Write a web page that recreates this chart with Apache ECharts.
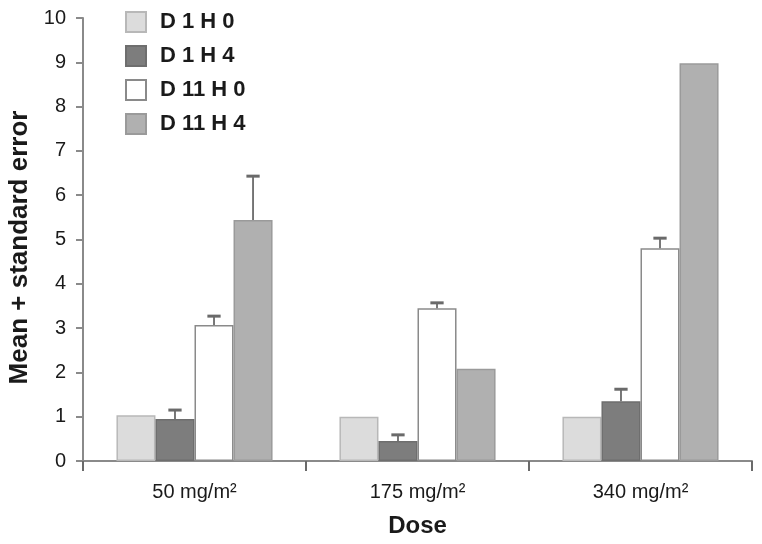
<!DOCTYPE html>
<html>
<head>
<meta charset="utf-8">
<script src="https://cdn.jsdelivr.net/npm/echarts@6/dist/echarts.min.js"></script>
<style>html,body{margin:0;padding:0;background:#fff;}#c{width:762px;height:544px;}</style>
</head>
<body>
<div id="c"></div>
<script>
var categories = ['50 mg/m\u00B2', '175 mg/m\u00B2', '340 mg/m\u00B2'];
var seriesNames = ['D 1 H 0', 'D 1 H 4', 'D 11 H 0', 'D 11 H 4'];
var d1h0 = [1.03, 1.0, 1.0];
var d1h4 = [0.95, 0.45, 1.35];
var d11h0 = [3.07, 3.45, 4.8];
var d11h4 = [5.44, 2.08, 8.98];
// upper end of error bars (null = none drawn)
var d1h0Err = [null, null, null];
var d1h4Err = [1.15, 0.59, 1.62];
var d11h0Err = [3.27, 3.57, 5.03];
var d11h4Err = [6.43, null, null];
var yTicks = [0, 1, 2, 3, 4, 5, 6, 7, 8, 9, 10];

var values = [d1h0, d1h4, d11h0, d11h4];
var errs = [d1h0Err, d1h4Err, d11h0Err, d11h4Err];
var fills = ['#dcdcdc', '#7d7d7d', '#ffffff', '#b0b0b0'];
var borders = ['#b8b8b8', '#6e6e6e', '#8a8a8a', '#9a9a9a'];
var GAP = 0.3;

var series = [];
values.forEach(function (v, i) {
  series.push({
    name: seriesNames[i], type: 'bar', data: v,
    barGap: '0%', barCategoryGap: (GAP * 100) + '%',
    itemStyle: { color: fills[i], borderColor: borders[i], borderWidth: 1.5 },
    z: 2
  });
});
values.forEach(function (v, i) {
  var data = [];
  v.forEach(function (val, j) { if (errs[i][j] != null) data.push([j, val, errs[i][j]]); });
  series.push({
    type: 'custom', data: data, z: 3, silent: true,
    renderItem: function (params, api) {
      var cat = api.value(0);
      var base = api.coord([cat, api.value(1)]);
      var top = api.coord([cat, api.value(2)]);
      var cw = api.size([1, 0])[0];
      var bw = cw * (1 - GAP) / 4;
      var x = base[0] - cw * (1 - GAP) / 2 + (i + 0.5) * bw;
      var cap = bw * 0.17;
      return { type: 'group', children: [
        { type: 'line', shape: { x1: x, y1: base[1], x2: x, y2: top[1] }, style: { stroke: '#6a6a6a', lineWidth: 1.8 } },
        { type: 'line', shape: { x1: x - cap, y1: top[1], x2: x + cap, y2: top[1] }, style: { stroke: '#6a6a6a', lineWidth: 3 } }
      ]};
    }
  });
});

var chart = echarts.init(document.getElementById('c'));
chart.setOption({
  animation: false,
  backgroundColor: '#fff',
  grid: { left: 83, right: 10, top: 18, bottom: 83, containLabel: false, outerBoundsMode: 'none' },
  legend: {
    data: seriesNames, orient: 'vertical', left: 125, top: 11,
    itemWidth: 20, itemHeight: 20, itemGap: 12, icon: 'rect',
    textStyle: { fontFamily: 'Liberation Sans', fontWeight: 'bold', fontSize: 22, color: '#1a1a1a', padding: [0, 0, 0, 9] },
    padding: 0
  },
  xAxis: {
    type: 'category', data: categories,
    name: 'Dose', nameLocation: 'middle', nameGap: 53,
    nameTextStyle: { fontFamily: 'Liberation Sans', fontWeight: 'bold', fontSize: 24, color: '#1a1a1a' },
    axisLine: { lineStyle: { color: '#8a8a8a', width: 2 } },
    axisTick: { show: true, length: 10, lineStyle: { color: '#6a6a6a', width: 2 } },
    axisLabel: { fontFamily: 'Liberation Sans', fontSize: 20, color: '#1a1a1a', margin: 21 }
  },
  yAxis: {
    type: 'value', min: yTicks[0], max: yTicks[yTicks.length - 1], interval: 1,
    name: 'Mean + standard error', nameLocation: 'middle', nameGap: 50,
    nameTextStyle: { fontFamily: 'Liberation Sans', fontWeight: 'bold', fontSize: 26, color: '#1a1a1a', padding: [0, 16, 0, 0] },
    axisLine: { show: true, lineStyle: { color: '#8a8a8a', width: 2 } },
    axisTick: { show: true, length: 7, lineStyle: { color: '#8a8a8a', width: 2 } },
    axisLabel: { fontFamily: 'Liberation Sans', fontSize: 20, color: '#1a1a1a', margin: 17 },
    splitLine: { show: false }
  },
  series: series
});
</script>
</body>
</html>
